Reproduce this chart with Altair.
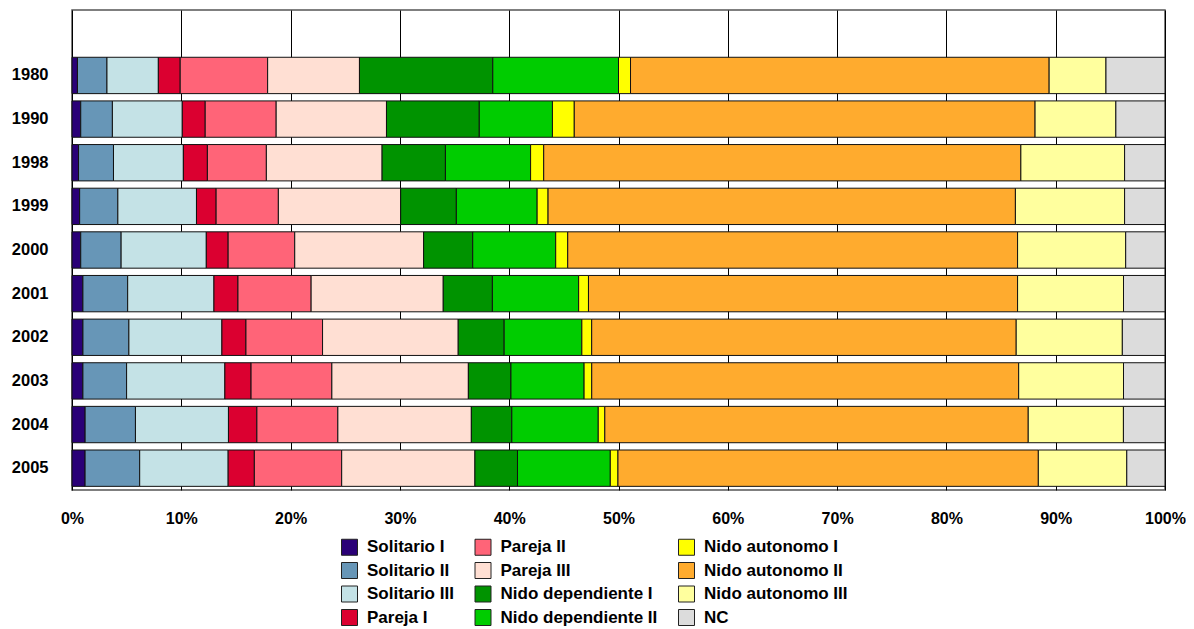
import altair as alt
import pandas as pd

years = ["1980", "1990", "1998", "1999", "2000", "2001", "2002", "2003", "2004", "2005"]

categories = [
    "Solitario I", "Solitario II", "Solitario III", "Pareja I", "Pareja II", "Pareja III",
    "Nido dependiente I", "Nido dependiente II", "Nido autonomo I", "Nido autonomo II",
    "Nido autonomo III", "NC",
]
colors = [
    "#2a0077", "#6796b7", "#c4e2e6", "#db0030", "#ff6478", "#ffdfd3",
    "#009300", "#00cc00", "#ffff00", "#ffab2e", "#ffff9e", "#dcdcdc",
]

solitario_1 = [0.5, 0.8, 0.6, 0.7, 0.8, 1.0, 1.0, 1.0, 1.2, 1.2]
solitario_2 = [2.7, 2.9, 3.2, 3.5, 3.7, 4.1, 4.2, 4.0, 4.6, 5.0]
solitario_3 = [4.7, 6.4, 6.4, 7.2, 7.8, 7.9, 8.5, 9.0, 8.5, 8.1]
pareja_1 = [2.0, 2.1, 2.2, 1.8, 2.0, 2.2, 2.2, 2.4, 2.6, 2.4]
pareja_2 = [8.0, 6.5, 5.4, 5.7, 6.1, 6.7, 7.0, 7.4, 7.4, 8.0]
pareja_3 = [8.4, 10.1, 10.6, 11.2, 11.8, 12.1, 12.4, 12.5, 12.2, 12.2]
nido_dep_1 = [12.2, 8.5, 5.8, 5.1, 4.5, 4.5, 4.2, 3.9, 3.7, 3.9]
nido_dep_2 = [11.5, 6.7, 7.8, 7.4, 7.6, 7.9, 7.1, 6.7, 7.9, 8.5]
nido_aut_1 = [1.1, 2.0, 1.2, 1.0, 1.1, 0.9, 0.9, 0.7, 0.6, 0.7]
nido_aut_2 = [38.3, 42.2, 43.7, 42.8, 41.2, 39.3, 38.8, 39.1, 38.7, 38.5]
nido_aut_3 = [5.2, 7.4, 9.5, 10.0, 9.9, 9.7, 9.7, 9.6, 8.7, 8.1]
nc = [5.4, 4.5, 3.7, 3.7, 3.6, 3.8, 3.9, 3.8, 3.8, 3.5]

series = [solitario_1, solitario_2, solitario_3, pareja_1, pareja_2, pareja_3,
          nido_dep_1, nido_dep_2, nido_aut_1, nido_aut_2, nido_aut_3, nc]

x_ticks = [0, 0.1, 0.2, 0.3, 0.4, 0.5, 0.6, 0.7, 0.8, 0.9, 1.0]

rows = []
for ci, (cat, vals) in enumerate(zip(categories, series)):
    for y, v in zip(years, vals):
        rows.append({"year": y, "cat": cat, "value": v, "idx": ci})
df = pd.DataFrame(rows)

y_domain = [" "] + years
FONT = "Liberation Sans"

chart = alt.Chart(df).mark_bar(stroke="#111111", strokeWidth=1).encode(
    y=alt.Y("year:N", scale=alt.Scale(domain=y_domain, paddingInner=0.167, paddingOuter=0.0835),
            axis=alt.Axis(title=None, ticks=False, domain=False, labelPadding=24,
                          labelFontSize=16.5, labelFontWeight="bold", labelColor="#000",
                          labelFont=FONT)),
    x=alt.X("value:Q", stack="normalize",
            scale=alt.Scale(domain=[0, 1], nice=False),
            axis=alt.Axis(title=None, values=x_ticks, format=".0%", ticks=False, domain=False,
                          grid=True, gridColor="#000", gridWidth=1, labelPadding=20,
                          labelFontSize=16, labelFontWeight="bold", labelColor="#000",
                          labelFont=FONT, labelFlush=False)),
    color=alt.Color("cat:N", scale=alt.Scale(domain=categories, range=colors),
                    legend=alt.Legend(title=None, orient="none", legendX=269, legendY=528.5,
                                      columns=3, columnPadding=18.5, rowPadding=2.5,
                                      symbolType="square", symbolSize=256,
                                      symbolStrokeColor="#222", symbolStrokeWidth=1,
                                      symbolOpacity=1,
                                      labelFontSize=17, labelFontWeight="bold",
                                      labelFont=FONT, labelColor="#000", labelOffset=9,
                                      labelLimit=300)),
    order=alt.Order("idx:Q", sort="ascending"),
).properties(
    width=1093, height=480,
    autosize=alt.AutoSizeParams(type="none"),
    padding={"left": 64, "top": 2, "right": 21, "bottom": 142},
).configure_view(
    stroke="#555", strokeWidth=1.5
)

chart.save("out.html", embed_options={"renderer": "svg", "actions": False})
